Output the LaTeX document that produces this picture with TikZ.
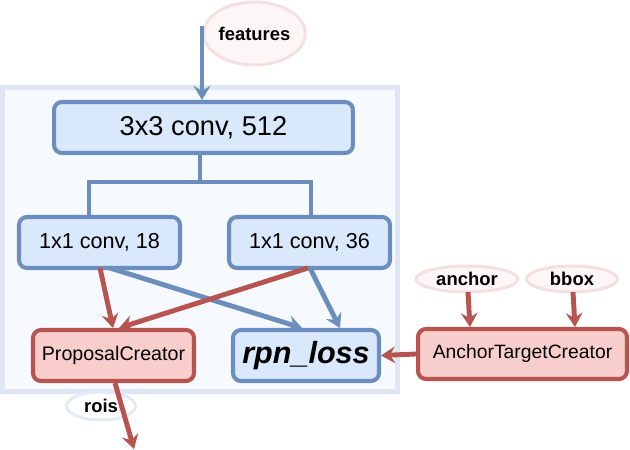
\documentclass[tikz,border=0pt]{standalone}
\usepackage{fontspec}
\setmainfont{Liberation Sans}
\usetikzlibrary{shapes.geometric,arrows.meta}
\definecolor{bluefill}{HTML}{DAE8FC}
\definecolor{blueline}{HTML}{6C8EBF}
\definecolor{redfill}{HTML}{F8CECC}
\definecolor{redline}{HTML}{B85450}
\definecolor{groupfill}{HTML}{F6F9FE}
\definecolor{groupline}{HTML}{DDE6F2}
\definecolor{pinkfill}{HTML}{FDF6F6}
\definecolor{pinkline}{HTML}{F4E0E0}
\definecolor{roisline}{HTML}{E4EBF5}
\tikzset{
  bluebox/.style={draw=blueline, fill=bluefill, line width=2.3pt, rounded corners=4.5pt, inner sep=0pt},
  redbox/.style={draw=redline, fill=redfill, line width=2.3pt, rounded corners=4.5pt, inner sep=0pt},
  tag/.style={ellipse, draw=pinkline, fill=pinkfill, line width=1.7pt, inner sep=0pt, font=\fontsize{10.5pt}{12pt}\selectfont\bfseries},
  tip/.style={-{Stealth[length=8pt, width=9.5pt, inset=2.8pt]}}
}
\begin{document}
\begin{tikzpicture}[x=0.02cm,y=-0.02cm]
\useasboundingbox (0,0) rectangle (630,450);
% group
\path[draw=groupline, fill=groupfill, line width=2.8pt] (2.5,87.5) rectangle (397.5,391.5);
% nodes
\node[tag, minimum width=2.02cm, minimum height=1.26cm] (features) at (254.5,33.5) {features};
\node[bluebox, minimum width=5.98cm, minimum height=1.02cm, font=\fontsize{15.5pt}{17pt}\selectfont] (conv3) at (203.5,127.5) {3x3 conv, 512};
\node[bluebox, minimum width=3.22cm, minimum height=1.02cm, font=\fontsize{12.3pt}{14pt}\selectfont] (cls) at (99.5,242.5) {1x1 conv, 18};
\node[bluebox, minimum width=3.22cm, minimum height=1.02cm, font=\fontsize{12.3pt}{14pt}\selectfont] (reg) at (309.5,242.5) {1x1 conv, 36};
\node[redbox, minimum width=3.22cm, minimum height=1.02cm, font=\fontsize{11.2pt}{13pt}\selectfont] (proposal) at (113.5,355.5) {ProposalCreator};
\node[bluebox, minimum width=2.92cm, minimum height=1.02cm, font=\fontsize{17.4pt}{19pt}\selectfont\bfseries\itshape] (loss) at (306,355.5) {rpn\_loss};
\node[redbox, minimum width=4.18cm, minimum height=1.0cm, font=\fontsize{11pt}{13pt}\selectfont] (target) at (522.5,354) {AnchorTargetCreator};
\node[tag, minimum width=2.04cm, minimum height=0.52cm] (anchor) at (467,279) {anchor};
\node[tag, minimum width=1.82cm, minimum height=0.52cm] (bbox) at (572,279) {bbox};
\node[tag, draw=roisline, fill=white, minimum width=1.38cm, minimum height=0.56cm] (rois) at (101,406) {rois};
\coordinate (in) at (202,26);
\coordinate (out) at (134,449);
% tree
\path[draw=blueline, line width=2pt] (200,155) -- (200,182);
\path[draw=blueline, line width=2pt] (89,215) -- (89,182) -- (311,182) -- (311,215);
% arrows
\path[draw=blueline, line width=2pt, tip] (in) -- (202,100);
\path[draw=redline, line width=2.8pt, tip] (100,268) -- (113,328);
\path[draw=blueline, line width=2.8pt, tip] (110,268) -- (302,328);
\path[draw=redline, line width=2.8pt, tip] (308,268) -- (119,328);
\path[draw=blueline, line width=2.8pt, tip] (310,268) -- (340,328);
\path[draw=redline, line width=2.8pt, tip] (target.west) -- (loss.east);
\path[draw=redline, line width=2.8pt, tip] (468,292) -- (470,327);
\path[draw=redline, line width=2.8pt, tip] (573,292) -- (575,327);
\path[draw=redline, line width=2.8pt, tip] (115,383) -- (out);
\end{tikzpicture}
\end{document}
